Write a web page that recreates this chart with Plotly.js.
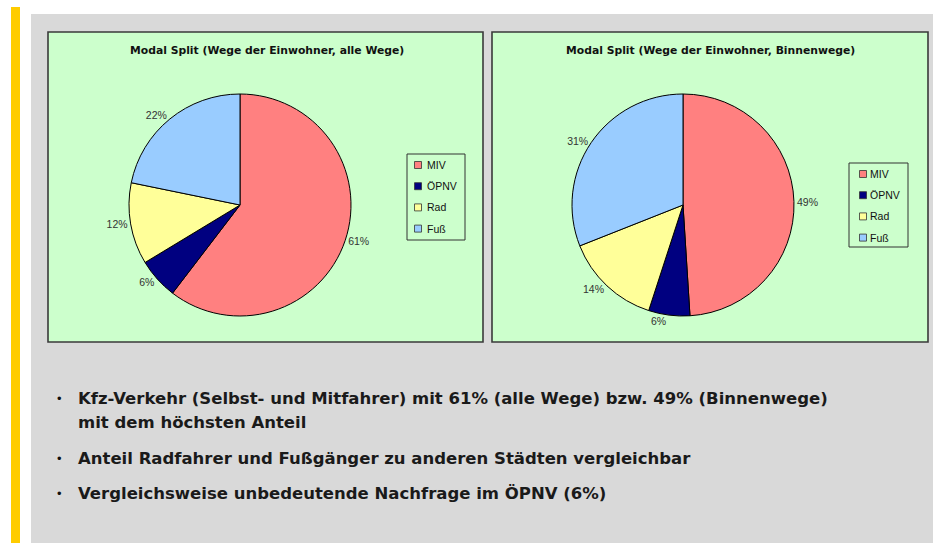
<!DOCTYPE html>
<html>
<head>
<meta charset="utf-8">
<script src="https://cdn.plot.ly/plotly-3.0.1.min.js"></script>
<style>html,body{margin:0;padding:0;background:#fff;}#chart{width:933px;height:543px;}</style>
</head>
<body>
<div id="chart"></div>
<script>
// ---- data ----
const categories = ["MIV", "ÖPNV", "Rad", "Fuß"];
const allWaysShare = [61, 6, 12, 22];      // Modal Split, alle Wege (%)
const innerWaysShare = [49, 6, 14, 31];    // Modal Split, Binnenwege (%)
const sliceColors = ["#FF8080", "#000080", "#FFFF99", "#99CCFF"];
const titleLeft = "Modal Split (Wege der Einwohner, alle Wege)";
const titleRight = "Modal Split (Wege der Einwohner, Binnenwege)";
const bulletLines = [
  ["Kfz-Verkehr (Selbst- und Mitfahrer) mit 61% (alle Wege) bzw. 49% (Binnenwege)", "mit dem höchsten Anteil"],
  ["Anteil Radfahrer und Fußgänger zu anderen Städten vergleichbar"],
  ["Vergleichsweise unbedeutende Nachfrage im ÖPNV (6%)"]
];

// ---- layout helpers (pixel -> paper) ----
const W = 933, H = 543;
const px = x => x / W;
const py = y => 1 - y / H;
const FONT = "Liberation Sans, Arial, sans-serif";
const FONT2 = "DejaVu Sans, Verdana, sans-serif";

function pieTrace(values, domainX) {
  return {
    type: "pie",
    labels: categories,
    values: values,
    text: values.map(v => v + "%"),
    textinfo: "text",
    textposition: "outside",
    textfont: {family: FONT, size: 10.5, color: "#333"},
    sort: false,
    direction: "clockwise",
    rotation: 0,
    marker: {colors: sliceColors, line: {color: "#000", width: 1}},
    domain: {x: [px(domainX[0]), px(domainX[1])], y: [py(316), py(94)]},
    hoverinfo: "none",
    automargin: false,
    showlegend: false
  };
}

const data = [
  pieTrace(allWaysShare, [129, 351]),
  pieTrace(innerWaysShare, [572, 794])
];

const shapes = [
  {type: "rect", xref: "paper", yref: "paper", x0: px(11), x1: px(20), y0: py(543), y1: py(7),
   fillcolor: "#FFCC00", line: {width: 0}, layer: "below"},
  {type: "rect", xref: "paper", yref: "paper", x0: px(31), x1: px(933), y0: py(543), y1: py(14),
   fillcolor: "#D9D9D9", line: {width: 0}, layer: "below"},
  {type: "rect", xref: "paper", yref: "paper", x0: px(48), x1: px(483), y0: py(342), y1: py(32),
   fillcolor: "#CCFFCC", line: {color: "#3a3a3a", width: 1.6}, layer: "below"},
  {type: "rect", xref: "paper", yref: "paper", x0: px(492), x1: px(928), y0: py(342), y1: py(32),
   fillcolor: "#CCFFCC", line: {color: "#3a3a3a", width: 1.6}, layer: "below"}
];

const annotations = [
  {text: "<b>" + titleLeft + "</b>", x: px(267), y: py(51), xref: "paper", yref: "paper",
   xanchor: "center", yanchor: "middle", showarrow: false, font: {family: FONT2, size: 10.8, color: "#111"}},
  {text: "<b>" + titleRight + "</b>", x: px(710), y: py(51), xref: "paper", yref: "paper",
   xanchor: "center", yanchor: "middle", showarrow: false, font: {family: FONT2, size: 10.8, color: "#111"}}
];

// manual legends (box + swatch + label for each category)
function addLegend(x0, y0, x1, y1, swatchX, textX, firstY, step) {
  shapes.push({type: "rect", xref: "paper", yref: "paper", x0: px(x0), x1: px(x1), y0: py(y1), y1: py(y0),
    fillcolor: "rgba(0,0,0,0)", line: {color: "#333", width: 1}});
  categories.forEach((c, i) => {
    const cy = firstY + i * step;
    shapes.push({type: "rect", xref: "paper", yref: "paper",
      x0: px(swatchX - 3.5), x1: px(swatchX + 3.5), y0: py(cy + 3.5), y1: py(cy - 3.5),
      fillcolor: sliceColors[i], line: {color: "#333", width: 0.8}});
    annotations.push({text: c, x: px(textX), y: py(cy), xref: "paper", yref: "paper",
      xanchor: "left", yanchor: "middle", showarrow: false,
      font: {family: FONT, size: 10.5, color: "#111"}});
  });
}
addLegend(407, 154, 465, 240, 418, 425, 165, 21.2);
addLegend(849, 163, 908, 247, 863, 868, 174, 21.2);

// bullet list
const lineCenters = [[398, 422], [458], [493]];
bulletLines.forEach((lines, i) => {
  annotations.push({text: "•", x: px(60), y: py(lineCenters[i][0]), xref: "paper", yref: "paper",
    xanchor: "center", yanchor: "middle", showarrow: false,
    font: {family: FONT, size: 13, color: "#111"}});
  lines.forEach((t, j) => {
    annotations.push({text: "<b>" + t + "</b>", x: px(76), y: py(lineCenters[i][j]), xref: "paper", yref: "paper",
      xanchor: "left", yanchor: "middle", align: "left", showarrow: false,
      font: {family: FONT2, size: 16.5, color: "#1a1a1a"}});
  });
});

const layout = {
  width: W, height: H,
  margin: {l: 0, r: 0, t: 0, b: 0},
  paper_bgcolor: "#fff",
  showlegend: false,
  shapes: shapes,
  annotations: annotations
};

Plotly.newPlot("chart", data, layout, {displayModeBar: false, staticPlot: true});
</script>
</body>
</html>
